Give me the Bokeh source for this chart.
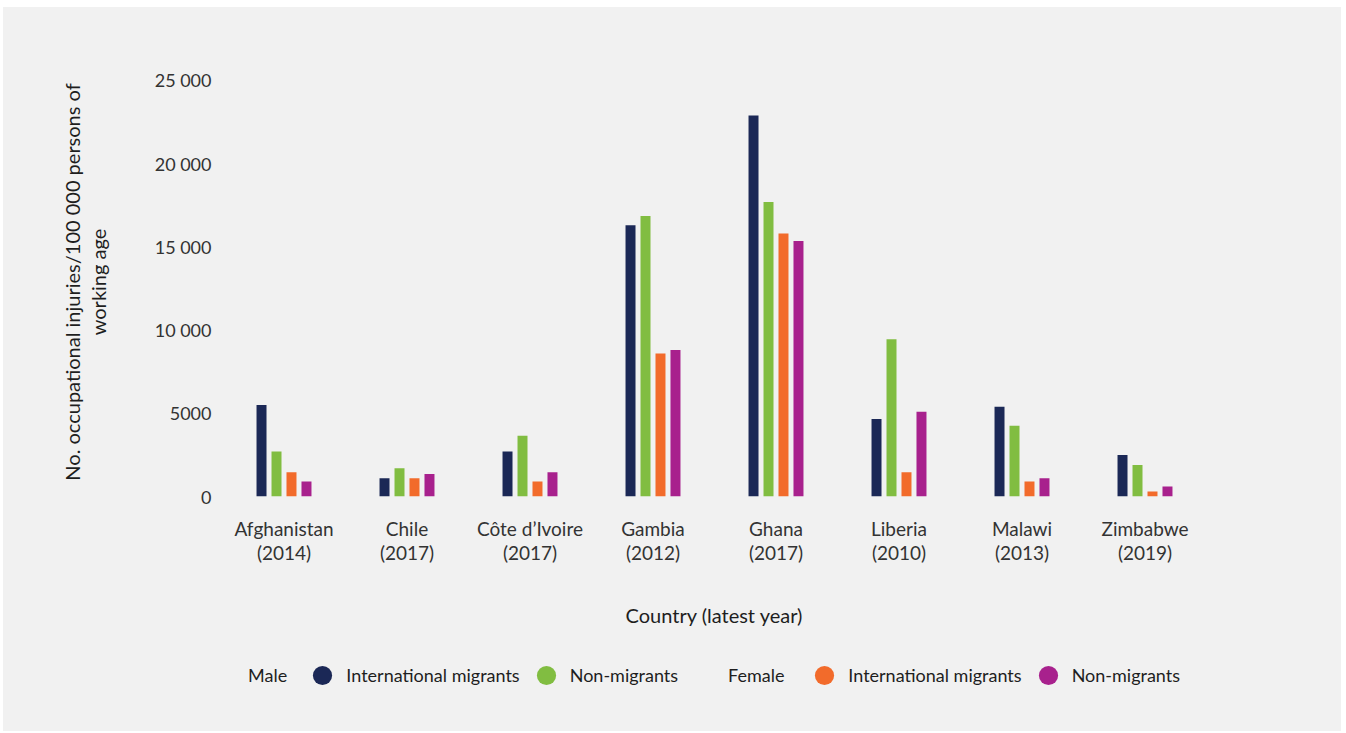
from bokeh.plotting import figure
from bokeh.layouts import column
from bokeh.models import FactorRange, Range1d, FixedTicker, Legend, LegendItem, ColumnDataSource
from bokeh.transform import dodge
from bokeh.embed import file_html
from bokeh.resources import INLINE

countries = ["Afghanistan", "Chile", "Côte d’Ivoire", "Gambia", "Ghana", "Liberia", "Malawi", "Zimbabwe"]
years = ["2014", "2017", "2017", "2012", "2017", "2010", "2013", "2019"]
male_migrants = [5500, 1100, 2700, 16300, 22900, 4650, 5400, 2500]
male_non_migrants = [2700, 1700, 3650, 16850, 17700, 9450, 4250, 1900]
female_migrants = [1450, 1100, 900, 8600, 15800, 1450, 900, 300]
female_non_migrants = [900, 1350, 1450, 8800, 15350, 5100, 1100, 600]
y_ticks = [0, 5000, 10000, 15000, 20000, 25000]
y_tick_labels = ["0", "5000", "10 000", "15 000", "20 000", "25 000"]

labels = [f"{c}\n({y})" for c, y in zip(countries, years)]

NAVY = "#1b2856"
GREEN = "#81bd41"
ORANGE = "#f26b2b"
MAGENTA = "#a8218d"
BG = "#f1f1f1"
FONT = "Lato"

src = ColumnDataSource(dict(label=labels, mm=male_migrants, mn=male_non_migrants,
                            fm=female_migrants, fn=female_non_migrants))

p = figure(width=1338, height=632, x_range=FactorRange(*labels), y_range=Range1d(0, 25780),
           output_backend="svg", toolbar_location=None,
           min_border_left=219, min_border_right=135, min_border_top=60, min_border_bottom=143)
p.background_fill_color = BG
p.border_fill_color = BG
p.outline_line_color = None
p.xgrid.grid_line_color = None
p.ygrid.grid_line_color = None
p.x_range.range_padding = 0

w = 0.0812
p.vbar(x=dodge('label', -0.1828, range=p.x_range), top='mm', width=w, source=src, fill_color=NAVY, line_color=None)
p.vbar(x=dodge('label', -0.0609, range=p.x_range), top='mn', width=w, source=src, fill_color=GREEN, line_color=None)
p.vbar(x=dodge('label', 0.0609, range=p.x_range), top='fm', width=w, source=src, fill_color=ORANGE, line_color=None)
p.vbar(x=dodge('label', 0.1828, range=p.x_range), top='fn', width=w, source=src, fill_color=MAGENTA, line_color=None)

# axes
p.yaxis.ticker = FixedTicker(ticks=y_ticks)
p.yaxis.major_label_overrides = {t: l for t, l in zip(y_ticks, y_tick_labels)}
p.yaxis.axis_label = "No. occupational injuries/100 000 persons of\nworking age"
p.yaxis.axis_label_text_align = "center"
p.yaxis.axis_label_standoff = 42
p.yaxis.major_label_standoff = 11
for ax in (p.xaxis, p.yaxis):
    ax.axis_line_color = None
    ax.major_tick_line_color = None
    ax.minor_tick_line_color = None
    ax.major_tick_in = 0
    ax.major_tick_out = 0
    ax.major_label_text_font = FONT
    ax.major_label_text_color = "#333333"
    ax.axis_label_text_font = FONT
    ax.axis_label_text_font_size = "20px"
    ax.axis_label_text_font_style = "normal"
    ax.axis_label_text_color = "#1e1e1e"
    ax.axis_label_text_line_height = 1.05
p.yaxis.major_label_text_font_size = "18px"
p.xaxis.major_label_text_font_size = "19px"

p.xaxis.axis_label = "Country (latest year)"
p.xaxis.major_label_standoff = 20
p.xaxis.major_label_text_line_height = 1.05
p.xaxis.axis_label_standoff = 36

# legend in its own strip below the chart
lg = figure(width=1338, height=92, x_range=Range1d(0, 1), y_range=Range1d(0, 1),
            output_backend="svg", toolbar_location=None,
            min_border_left=0, min_border_right=0, min_border_top=0, min_border_bottom=0,
            x_axis_type=None, y_axis_type=None)
lg.background_fill_color = BG
lg.border_fill_color = BG
lg.outline_line_color = None
lg.xgrid.grid_line_color = None
lg.ygrid.grid_line_color = None

d1 = lg.scatter(x=[-10], y=[-10], marker="circle", size=1, alpha=0)
d2 = lg.scatter(x=[-10], y=[-10], marker="circle", size=1, alpha=0)
l1 = lg.scatter(x=[-10], y=[-10], marker="circle", fill_color=NAVY, line_color=None)
l2 = lg.scatter(x=[-10], y=[-10], marker="circle", fill_color=GREEN, line_color=None)
l3 = lg.scatter(x=[-10], y=[-10], marker="circle", fill_color=ORANGE, line_color=None)
l4 = lg.scatter(x=[-10], y=[-10], marker="circle", fill_color=MAGENTA, line_color=None)

legend = Legend(items=[
    LegendItem(label="Male  ", renderers=[d1]),
    LegendItem(label="International migrants", renderers=[l1]),
    LegendItem(label="Non-migrants", renderers=[l2]),
    LegendItem(label="Female   ", renderers=[d2]),
    LegendItem(label="International migrants", renderers=[l3]),
    LegendItem(label="Non-migrants", renderers=[l4]),
], orientation="horizontal", location=(-22, 32),
    glyph_width=48, glyph_height=48, label_standoff=0, spacing=2,
    padding=0, margin=0, border_line_alpha=0, background_fill_alpha=0,
    label_text_font=FONT, label_text_font_size="18px", label_text_color="#1e1e1e")
lg.add_layout(legend, "center")

layout = column(p, lg, spacing=0)
layout.margin = (7, 0, 0, 3)
layout.styles = {"background-color": BG}
open("out.html", "w").write(file_html(layout, INLINE))
